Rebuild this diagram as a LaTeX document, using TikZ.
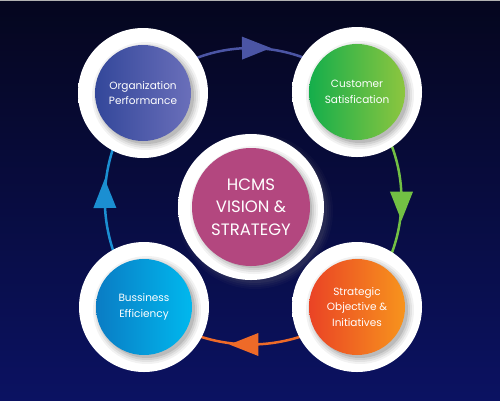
\documentclass[tikz,border=0pt]{standalone}
\usepackage{fontspec}
\setmainfont{Poppins}
\usetikzlibrary{shapes.geometric,backgrounds,calc}
\definecolor{bgT}{HTML}{05061E}
\definecolor{bgB}{HTML}{0B1262}
\definecolor{orgL}{HTML}{33479A}
\definecolor{orgR}{HTML}{6A6FBA}
\definecolor{custL}{HTML}{14AE4B}
\definecolor{custR}{HTML}{8DC63F}
\definecolor{bussL}{HTML}{0A7CC4}
\definecolor{bussR}{HTML}{00B8EE}
\definecolor{stratL}{HTML}{EA4325}
\definecolor{stratR}{HTML}{F7941D}
\definecolor{hubc}{HTML}{B3477F}
\definecolor{topc}{HTML}{4B55A5}
\definecolor{rightc}{HTML}{72C044}
\definecolor{botc}{HTML}{EE6A28}
\definecolor{leftc}{HTML}{1B8FD2}
\pgfdeclareradialshading{ringshade}{\pgfpoint{0bp}{0bp}}{color(0bp)=(white); color(36bp)=(white); color(46bp)=(black!5); color(50bp)=(black!10)}
\newcommand\softshadow[4]{%
  \foreach \k/\o in {6/0.05,4/0.06,2/0.08,0/0.1}
    \fill[#4,opacity=\o] ($(#1)+(#3,#3)$) circle[radius={(#2+\k)*1pt}];}
\begin{document}
\begin{tikzpicture}[x=1pt,y=-1pt,
  ring/.style={circle, minimum size=130pt, inner sep=0pt, shading=ringshade},
  disc/.style={circle, minimum size=96pt, inner sep=0pt, text=white, align=center,
    font=\fontsize{10.5}{15.5}\selectfont},
  flow/.style={line width=2.5pt},
  tri/.style={isosceles triangle, isosceles triangle stretches, minimum width=23pt,
    minimum height=29pt, inner sep=0pt, shape border rotate=0, sloped,
    allow upside down, midway, draw=none}
]
\useasboundingbox (0,0) rectangle (500,400);

% rings
\softshadow{251,207}{72}{4}{gray}
\node[ring, minimum size=146pt] (hubR) at (251,207) {};
\node[ring] (orgRg) at (143,93) {};
\node[ring] (custRg) at (357,92) {};
\node[ring] (bussRg) at (144,307) {};
\node[ring] (stratRg) at (357,307) {};

% inner discs
\softshadow{251,207}{58}{3}{black}
\node[disc, minimum size=118pt, fill=hubc, font=\fontsize{16.5}{22.5}\selectfont] (hub) at (hubR) {HCMS\\VISION \&\\STRATEGY};
\softshadow{143,93}{48}{3}{black}
\node[disc, left color=orgL, right color=orgR] (org) at (orgRg) {Organization\\Performance};
\softshadow{357,92}{48}{3}{black}
\node[disc, left color=custL, right color=custR] (cust) at (custRg) {Customer\\Satisfication};
\softshadow{144,307}{48}{3}{black}
\node[disc, left color=bussL, right color=bussR] (buss) at (bussRg) {Bussiness\\Efficiency};
\softshadow{357,307}{48}{3}{black}
\node[disc, left color=stratL, right color=stratR] (strat) at (stratRg) {Strategic\\Objective \&\\Initiatives};

\begin{pgfonlayer}{background}
  \shade[top color=bgT, bottom color=bgB] (0,0) rectangle (500,400);
  \draw[gray!60, line width=1pt] (0,0.5) -- (500,0.5);
  \draw[flow, topc] (orgRg.center) to[bend left=45] node[tri, fill=topc] {} (custRg.center);
  \draw[flow, rightc] (custRg.center) to[bend left=45] node[tri, fill=rightc] {} (stratRg.center);
  \draw[flow, botc] (stratRg.center) to[bend left=37] node[tri, fill=botc] {} (bussRg.center);
  \draw[flow, leftc] (bussRg.center) to[bend left=38] node[tri, fill=leftc] {} (orgRg.center);
\end{pgfonlayer}
\end{tikzpicture}
\end{document}
